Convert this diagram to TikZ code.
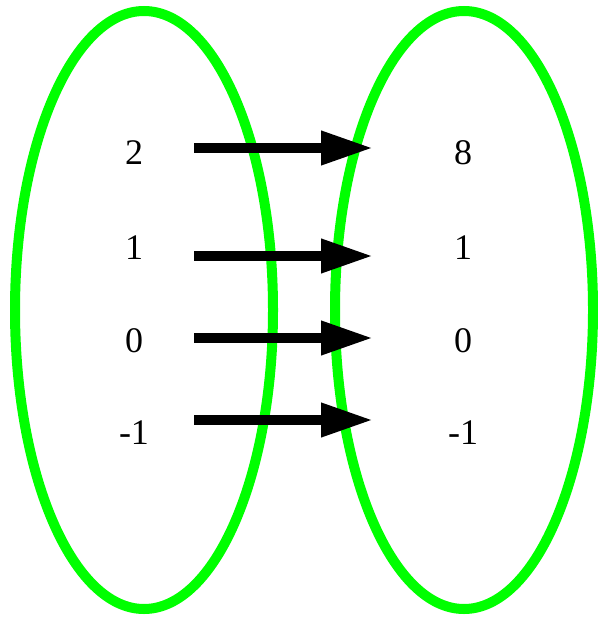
\documentclass[tikz,border=0pt]{standalone}
\usepackage{fontspec}
\setmainfont{Liberation Serif}
\usetikzlibrary{arrows.meta,shapes.geometric}
\definecolor{brightgreen}{RGB}{0,255,0}
\begin{document}
\begin{tikzpicture}[x=1pt,y=-1pt,
  setoval/.style={draw=brightgreen,line width=10pt},
  val/.style={anchor=base,inner sep=0pt,font=\fontsize{36}{40}\selectfont},
  maparrow/.style={line width=10pt,-{Triangle[length=52pt,width=32pt]}}]
\useasboundingbox (0,0) rectangle (597,617);
\node[setoval,ellipse,minimum width=258pt,minimum height=598pt,inner sep=0pt] (dom) at (144,310) {};
\node[setoval,ellipse,minimum width=258pt,minimum height=598pt,inner sep=0pt] (cod) at (464,310) {};
\node[val] (a2) at (134,165) {2};
\node[val] (a1) at (134,259) {1};
\node[val] (a0) at (134,352) {0};
\node[val] (am) at (134,444) {-1};
\node[val] (b8) at (463,165) {8};
\node[val] (b1) at (463,259) {1};
\node[val] (b0) at (463,352) {0};
\node[val] (bm) at (463,444) {-1};
\coordinate (s2) at (194,148); \coordinate (t2) at (373,148);
\coordinate (s1) at (194,256); \coordinate (t1) at (373,256);
\coordinate (s0) at (194,338); \coordinate (t0) at (373,338);
\coordinate (sm) at (194,420); \coordinate (tm) at (373,420);
\draw[maparrow] (s2) -- (t2);
\draw[maparrow] (s1) -- (t1);
\draw[maparrow] (s0) -- (t0);
\draw[maparrow] (sm) -- (tm);
\end{tikzpicture}
\end{document}
